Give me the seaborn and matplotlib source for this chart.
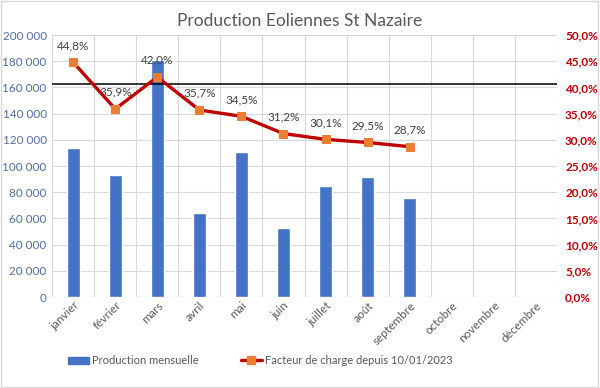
import matplotlib
matplotlib.use('Agg')
import matplotlib.pyplot as plt
import seaborn as sns
import pandas as pd
from matplotlib.patches import Rectangle
from matplotlib.ticker import FuncFormatter, MultipleLocator

# Data
mois = ['janvier', 'février', 'mars', 'avril', 'mai', 'juin', 'juillet',
        'août', 'septembre', 'octobre', 'novembre', 'décembre']
production = [113500, 93500, 181000, 64000, 111000, 53000, 84500, 91500, 75500,
              None, None, None]
facteur = [44.8, 35.9, 42.0, 35.7, 34.5, 31.2, 30.1, 29.5, 28.7]
seuil = 162500  # black reference line

sns.set_style('white')
plt.rcParams['font.family'] = ['Lato', 'DejaVu Sans']

df = pd.DataFrame({'mois': mois, 'production': production})

fig = plt.figure(figsize=(6, 3.88), dpi=100)
ax = fig.add_axes([0.087, 0.2345, 0.841, 0.675])

sns.barplot(data=df, x='mois', y='production', order=mois, color='#4472C4',
            width=0.3, saturation=1, ax=ax, zorder=3)
ax.set_xlim(-0.5, 11.5)
ax.set_ylim(0, 200000)
ax.yaxis.set_major_locator(MultipleLocator(20000))
ax.yaxis.set_major_formatter(FuncFormatter(lambda v, p: f'{int(v):,}'.replace(',', ' ')))
ax.tick_params(axis='y', labelsize=8.5, colors='#4F6FA8', length=0, pad=4)
ax.tick_params(axis='x', labelsize=8.5, colors='#595959', length=0, pad=2)
plt.setp(ax.get_xticklabels(), rotation=45, ha='right', rotation_mode='anchor')
ax.set_xlabel('')
ax.set_ylabel('')

# grid: horizontal at ticks, vertical at category borders
ax.grid(axis='y', color='#D9D9D9', lw=0.8, zorder=0)
for b in range(13):
    ax.axvline(b - 0.5, color='#D9D9D9', lw=0.8, zorder=0)
for s in ax.spines.values():
    s.set_visible(False)
ax.axhline(0, color='#D9D9D9', lw=0.8, zorder=1)
ax.axhline(seuil, color='black', lw=1.1, zorder=5)

ax2 = ax.twinx()
ax2.set_position(ax.get_position())
lf = pd.DataFrame({'x': range(len(facteur)), 'facteur': facteur})
sns.lineplot(data=lf, x='x', y='facteur', color='#C00000', lw=2.4,
             marker='s', markersize=6, markerfacecolor='#ED7D31',
             markeredgecolor='#ED7D31', ax=ax2, zorder=4)
for i, v in enumerate(facteur):
    ax2.annotate(f'{v:.1f}%'.replace('.', ','), (i, v), xytext=(0, 8),
                 textcoords='offset points', ha='center', va='bottom',
                 fontsize=8.5, color='#404040')
ax2.set_ylim(0, 50)
ax2.yaxis.set_major_locator(MultipleLocator(5))
ax2.yaxis.set_major_formatter(FuncFormatter(lambda v, p: f'{v:.1f}%'.replace('.', ',')))
ax2.tick_params(axis='y', labelsize=8.5, colors='#C00000', length=0, pad=6)
for t in ax2.get_yticklabels():
    t.set_fontweight('bold')
ax2.set_xlabel('')
ax2.set_ylabel('')
for s in ax2.spines.values():
    s.set_visible(False)

fig.text(0.5, 0.945, 'Production Eoliennes St Nazaire', ha='center', va='center',
         fontsize=12.5, color='#595959')

h1 = Rectangle((0, 0), 1, 1, color='#4472C4')
h2 = plt.Line2D([], [], color='#C00000', lw=2.4, marker='s', markersize=6,
                markerfacecolor='#ED7D31', markeredgecolor='#ED7D31')
fig.legend([h1, h2], ['Production mensuelle', 'Facteur de charge depuis 10/01/2023'],
           loc='center left', bbox_to_anchor=(0.096, 0.07), ncol=2, frameon=False,
           fontsize=8, labelcolor='#595959', columnspacing=3.8, handlelength=1.9,
           handletextpad=0.3)

fig.patches.append(Rectangle((0.002, 0.003), 0.995, 0.994, transform=fig.transFigure,
                             fill=False, edgecolor='#D9D9D9', lw=1))

fig.savefig('out.png', dpi=100)
